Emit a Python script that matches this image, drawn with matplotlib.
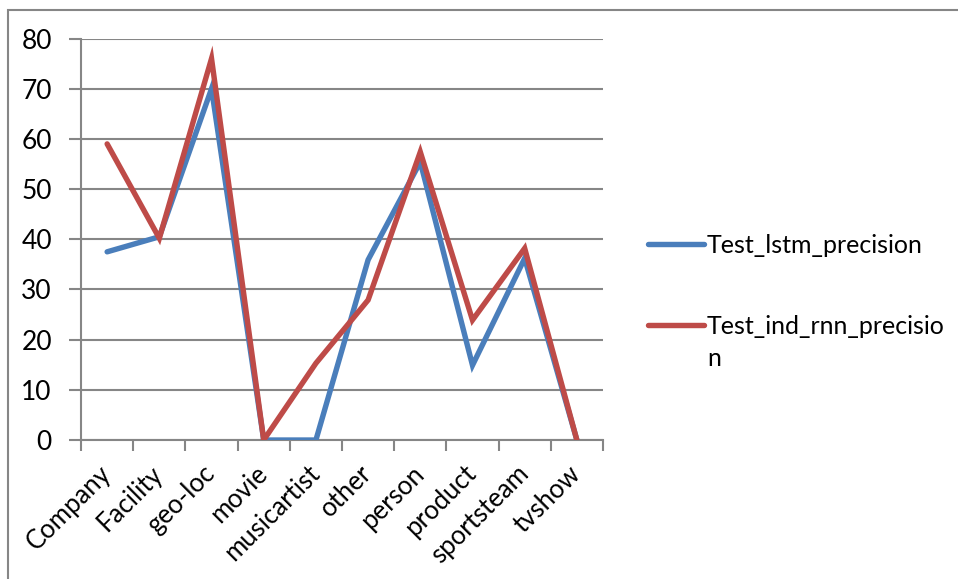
import matplotlib.pyplot as plt
from matplotlib.patches import Rectangle
from matplotlib.transforms import ScaledTranslation

categories = ['Company', 'Facility', 'geo-loc', 'movie', 'musicartist',
              'other', 'person', 'product', 'sportsteam', 'tvshow']
lstm_precision = [37.5, 40.5, 70.0, 0, 0, 35.9, 55.4, 14.9, 36.2, 0]
ind_rnn_precision = [59.0, 40.2, 76.0, 0, 15.3, 27.9, 57.4, 23.9, 38.2, 0]
yticks = [0, 10, 20, 30, 40, 50, 60, 70, 80]

plt.rcParams['font.family'] = ['Lato', 'DejaVu Sans']
grey = '#868686'
fs = 19

fig = plt.figure(figsize=(9.58, 5.79), dpi=100)
ax = fig.add_axes([0.0846, 0.240, 0.5448, 0.6935])

x = [i + 0.5 for i in range(len(categories))]
ax.plot(x, lstm_precision, color='#4A7EBB', lw=3.9, solid_capstyle='round',
        solid_joinstyle='miter', label='Test_lstm_precision', zorder=3)
ax.plot(x, ind_rnn_precision, color='#BE4B48', lw=3.9, solid_capstyle='round',
        solid_joinstyle='miter', label='Test_ind_rnn_precisio', zorder=4)

ax.set_xlim(0, len(categories))
ax.set_ylim(0, 80)
ax.set_yticks(yticks)
ax.set_yticklabels([str(v) for v in yticks], fontsize=fs)
ax.yaxis.grid(True, color=grey, lw=1.5)
ax.set_axisbelow(True)

# tick marks sit between categories, labels at category centres
ax.set_xticks(range(len(categories) + 1))
ax.set_xticklabels([])
ax.set_xticks(x, minor=True)
ax.set_xticklabels(categories, minor=True, rotation=45, ha='right',
                   rotation_mode='anchor', fontsize=18.5)
ax.tick_params(axis='x', which='major', length=8, width=1.5, color=grey,
               direction='out')
ax.tick_params(axis='x', which='minor', length=0, pad=15)
ax.tick_params(axis='y', length=9, width=1.5, color=grey, pad=12)

shift = ScaledTranslation(-9 / 100, 0, fig.dpi_scale_trans)
for lbl in ax.get_xticklabels(minor=True):
    lbl.set_transform(lbl.get_transform() + shift)

for side in ['top', 'right']:
    ax.spines[side].set_visible(False)
for side in ['left', 'bottom']:
    ax.spines[side].set_color(grey)
    ax.spines[side].set_linewidth(1.5)

leg = fig.legend(loc='upper left', bbox_to_anchor=(0.666, 0.613),
                 frameon=False, fontsize=18, handlelength=2.25,
                 handletextpad=0.1, labelspacing=2.3, borderaxespad=0)

# the long series name wraps onto a second line under its legend entry
fig.canvas.draw()
last = leg.get_texts()[1]
bb = last.get_window_extent().transformed(fig.transFigure.inverted())
fig.text(bb.x0, bb.y0 - 32 / 579, 'n', fontsize=18, va='bottom', ha='left')

fig.patches.append(Rectangle((8 / 958, -0.5), 2, 1.5 - 9.5 / 579,
                             transform=fig.transFigure, fill=False,
                             edgecolor=grey, lw=1.5))

fig.savefig('out.png', dpi=100)
